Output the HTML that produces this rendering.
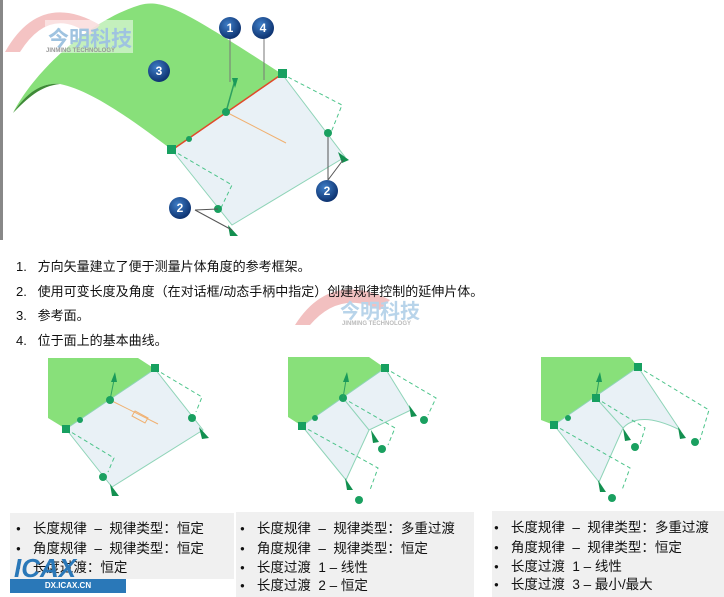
<!DOCTYPE html>
<html><head><meta charset="utf-8"><style>
body{margin:0;width:724px;height:597px;background:#fff;position:relative;overflow:hidden;font-family:"Liberation Sans","Noto Sans CJK SC",sans-serif;}
.t{position:absolute;font-size:13px;color:#111;white-space:nowrap;}
.box{position:absolute;background:#f0f0f0;}
.b{position:absolute;font-size:13.5px;color:#111;white-space:nowrap;}
.b:before{content:"●";font-size:8px;position:relative;top:-2px;margin-right:12px;}
svg{position:absolute;left:0;top:0}
</style></head><body>
<div style="position:absolute;left:0;top:0;width:3px;height:240px;background:#888"></div>
<svg width="724" height="597">
<defs><radialGradient id="ball" cx="40%" cy="35%" r="65%"><stop offset="0" stop-color="#3f7fc8"/><stop offset="1" stop-color="#0d3270"/></radialGradient></defs>
<!-- main surface -->
<path d="M13,113 C35,70 90,20 140,5 C165,-2 190,15 282,74 L172,150 C130,118 90,90 60,84 C40,82 25,95 13,113Z" fill="#88e07a"/>
<path d="M13,113 C25,95 40,82 60,84 C40,86 28,98 13,113Z" fill="#3e8a36"/>
<!-- watermark -->
<path d="M5,52 Q40,-10 100,25 L90,35 Q50,5 20,52Z" fill="#f2b8b8" opacity="0.85"/>
<rect x="45" y="20" width="88" height="33" fill="#fff" opacity="0.5"/>
<text x="48" y="46" font-size="21" font-weight="bold" fill="#9fc3e0" font-family="Noto Sans CJK SC">今明科技</text>
<text x="46" y="52" font-size="6" font-weight="bold" fill="#999">JINMING TECHNOLOGY</text>
<polygon points="172,150 282,74 345,157 232,225" fill="#e9f1f6" stroke="#8fd4b8" stroke-width="1"/>
<line x1="172" y1="150" x2="282" y2="74" stroke="#e04a2a" stroke-width="1.5"/>
<polyline points="282,74 342,105 330,135" fill="none" stroke="#4cc48a" stroke-dasharray="4,3"/>
<polyline points="172,150 232,185 220,210" fill="none" stroke="#4cc48a" stroke-dasharray="4,3"/>
<line x1="226" y1="112" x2="286" y2="143" stroke="#f0b070"/>
<line x1="226" y1="112" x2="235" y2="80" stroke="#2ea060" stroke-width="1.5"/>
<polygon points="232,78 238,78 235,88" fill="#1a9a5a"/>
<circle cx="226" cy="112" r="4" fill="#1aa060"/><circle cx="328" cy="133" r="4" fill="#1aa060"/><circle cx="218" cy="209" r="4" fill="#1aa060"/><circle cx="189" cy="139" r="3" fill="#1aa060"/>
<rect x="167" y="145" width="9" height="9" fill="#17a060"/><rect x="278" y="69" width="9" height="9" fill="#17a060"/>
<polygon points="338,152 349,160 342,163" fill="#139050"/><polygon points="228,225 238,236 230,236" fill="#139050"/>
<line x1="230" y1="30" x2="230" y2="82" stroke="#777"/><line x1="264" y1="30" x2="264" y2="80" stroke="#777"/>
<line x1="328" y1="137" x2="328" y2="180" stroke="#555"/><line x1="328" y1="180" x2="343" y2="160" stroke="#555"/>
<line x1="195" y1="210" x2="218" y2="209" stroke="#555"/><line x1="195" y1="210" x2="232" y2="230" stroke="#555"/>
<g font-size="12" font-weight="bold" fill="#fff" text-anchor="middle">
<circle cx="230" cy="28" r="11" fill="url(#ball)"/><text x="230" y="32">1</text>
<circle cx="263" cy="28" r="11" fill="url(#ball)"/><text x="263" y="32">4</text>
<circle cx="159" cy="71" r="11" fill="url(#ball)"/><text x="159" y="75">3</text>
<circle cx="327" cy="191" r="11" fill="url(#ball)"/><text x="327" y="195">2</text>
<circle cx="180" cy="208" r="11" fill="url(#ball)"/><text x="180" y="212">2</text>
</g>
<!-- second watermark -->
<path d="M295,325 Q330,270 390,300 L380,310 Q340,290 310,325Z" fill="#f2c0c0"/>
<text x="340" y="318" font-size="20" font-weight="bold" fill="#b8d4ea" font-family="Noto Sans CJK SC">今明科技</text>
<text x="342" y="325" font-size="6" font-weight="bold" fill="#bbb">JINMING TECHNOLOGY</text>
<!-- panel 1 -->
<polygon points="48,358 138,358 155,369 66,429 48,418" fill="#88e07a"/>
<polygon points="66,429 155,369 203,430 112,487" fill="#e9f1f6" stroke="#8fd4b8"/>
<polyline points="155,369 202,397 196,412" fill="none" stroke="#4cc48a" stroke-dasharray="4,3"/>
<polyline points="66,429 114,458 108,472" fill="none" stroke="#4cc48a" stroke-dasharray="4,3"/>
<line x1="110" y1="400" x2="158" y2="424" stroke="#f0b070"/>
<polygon points="135,411 148,418 145,423 132,416" fill="none" stroke="#f0b070"/>
<line x1="110" y1="400" x2="114" y2="380" stroke="#2ea060"/><polygon points="111,382 117,382 115,372" fill="#1a9a5a"/>
<circle cx="110" cy="400" r="4" fill="#1aa060"/><circle cx="192" cy="418" r="4" fill="#1aa060"/><circle cx="103" cy="477" r="4" fill="#1aa060"/><circle cx="80" cy="420" r="3" fill="#1aa060"/>
<polygon points="199,427 209,438 202,439" fill="#139050"/><polygon points="110,484 119,496 112,496" fill="#139050"/>
<rect x="62" y="425" width="8" height="8" fill="#17a060"/><rect x="151" y="364" width="8" height="8" fill="#17a060"/>
<!-- panel 2 -->
<polygon points="288,357 369,357 385,368 302,426 288,417" fill="#88e07a"/>
<polygon points="302,426 385,368 411,410 369,430 346,480" fill="#e9f1f6" stroke="#8fd4b8"/>
<polyline points="385,368 436,398 428,415" fill="none" stroke="#4cc48a" stroke-dasharray="4,3"/>
<polyline points="343,398 395,428 388,445" fill="none" stroke="#4cc48a" stroke-dasharray="4,3"/>
<polyline points="302,426 378,468 370,490" fill="none" stroke="#4cc48a" stroke-dasharray="4,3"/>
<line x1="343" y1="398" x2="369" y2="430" stroke="#8fd4b8"/>
<circle cx="343" cy="398" r="4" fill="#1aa060"/><circle cx="424" cy="420" r="4" fill="#1aa060"/><circle cx="382" cy="449" r="4" fill="#1aa060"/><circle cx="359" cy="500" r="4" fill="#1aa060"/><circle cx="315" cy="418" r="3" fill="#1aa060"/>
<polygon points="409,405 417,416 411,417" fill="#139050"/><polygon points="371,430 379,442 373,443" fill="#139050"/><polygon points="345,478 353,490 347,490" fill="#139050"/>
<line x1="343" y1="398" x2="346" y2="380" stroke="#2ea060"/><polygon points="343,382 349,382 347,372" fill="#1a9a5a"/>
<rect x="298" y="422" width="8" height="8" fill="#17a060"/><rect x="381" y="364" width="8" height="8" fill="#17a060"/>
<!-- panel 3 -->
<polygon points="541,357 630,357 638,367 554,425 541,420" fill="#88e07a"/>
<path d="M554,425 L638,367 L680,430 Q640,410 623,428 L599,482Z" fill="#e9f1f6" stroke="#8fd4b8"/>
<polyline points="638,367 709,410 700,440" fill="none" stroke="#4cc48a" stroke-dasharray="4,3"/>
<polyline points="596,398 645,428 640,445" fill="none" stroke="#4cc48a" stroke-dasharray="4,3"/>
<polyline points="554,425 630,468 622,490" fill="none" stroke="#4cc48a" stroke-dasharray="4,3"/>
<line x1="596" y1="398" x2="623" y2="428" stroke="#8fd4b8"/>
<circle cx="695" cy="442" r="4" fill="#1aa060"/><circle cx="635" cy="447" r="4" fill="#1aa060"/><circle cx="612" cy="498" r="4" fill="#1aa060"/><circle cx="568" cy="418" r="3" fill="#1aa060"/>
<polygon points="678,427 686,438 680,439" fill="#139050"/><polygon points="623,428 631,440 625,441" fill="#139050"/><polygon points="598,480 606,492 600,492" fill="#139050"/>
<line x1="596" y1="398" x2="599" y2="380" stroke="#2ea060"/><polygon points="596,382 602,382 600,372" fill="#1a9a5a"/>
<rect x="592" y="394" width="8" height="8" fill="#17a060"/>
<rect x="550" y="421" width="8" height="8" fill="#17a060"/><rect x="634" y="363" width="8" height="8" fill="#17a060"/>
</svg>
<div class="t" style="left:16px;top:256px">1.&nbsp;&nbsp;&nbsp;方向矢量建立了便于测量片体角度的参考框架。</div>
<div class="t" style="left:16px;top:281px">2.&nbsp;&nbsp;&nbsp;使用可变长度及角度（在对话框/动态手柄中指定）创建规律控制的延伸片体。</div>
<div class="t" style="left:16px;top:305px">3.&nbsp;&nbsp;&nbsp;参考面。</div>
<div class="t" style="left:16px;top:330px">4.&nbsp;&nbsp;&nbsp;位于面上的基本曲线。</div>
<div class="box" style="left:10px;top:513px;width:224px;height:66px"></div>
<div class="box" style="left:236px;top:512px;width:238px;height:85px"></div>
<div class="box" style="left:492px;top:511px;width:232px;height:86px"></div>
<div class="b" style="left:16px;top:517px">长度规律 &nbsp;– &nbsp;规律类型：恒定</div>
<div class="b" style="left:16px;top:537px">角度规律 &nbsp;– &nbsp;规律类型：恒定</div>
<div class="b" style="left:16px;top:556px">长度过渡：恒定</div>
<div class="b" style="left:240px;top:517px">长度规律 &nbsp;– &nbsp;规律类型：多重过渡</div>
<div class="b" style="left:240px;top:537px">角度规律 &nbsp;– &nbsp;规律类型：恒定</div>
<div class="b" style="left:240px;top:556px">长度过渡 &nbsp;1 – 线性</div>
<div class="b" style="left:240px;top:574px">长度过渡 &nbsp;2 – 恒定</div>
<div class="b" style="left:494px;top:516px">长度规律 &nbsp;– &nbsp;规律类型：多重过渡</div>
<div class="b" style="left:494px;top:536px">角度规律 &nbsp;– &nbsp;规律类型：恒定</div>
<div class="b" style="left:494px;top:555px">长度过渡 &nbsp;1 – 线性</div>
<div class="b" style="left:494px;top:573px">长度过渡 &nbsp;3 – 最小/最大</div>
<div style="position:absolute;left:10px;top:579px;width:116px;height:14px;background:#2a78b8;color:#fff;font-size:8px;font-weight:bold;text-align:center;line-height:14px">DX.ICAX.CN</div>
<div style="position:absolute;left:14px;top:553px;font-size:26px;font-weight:bold;font-style:italic;color:#2a78b8">ICAX</div>
</body></html>
